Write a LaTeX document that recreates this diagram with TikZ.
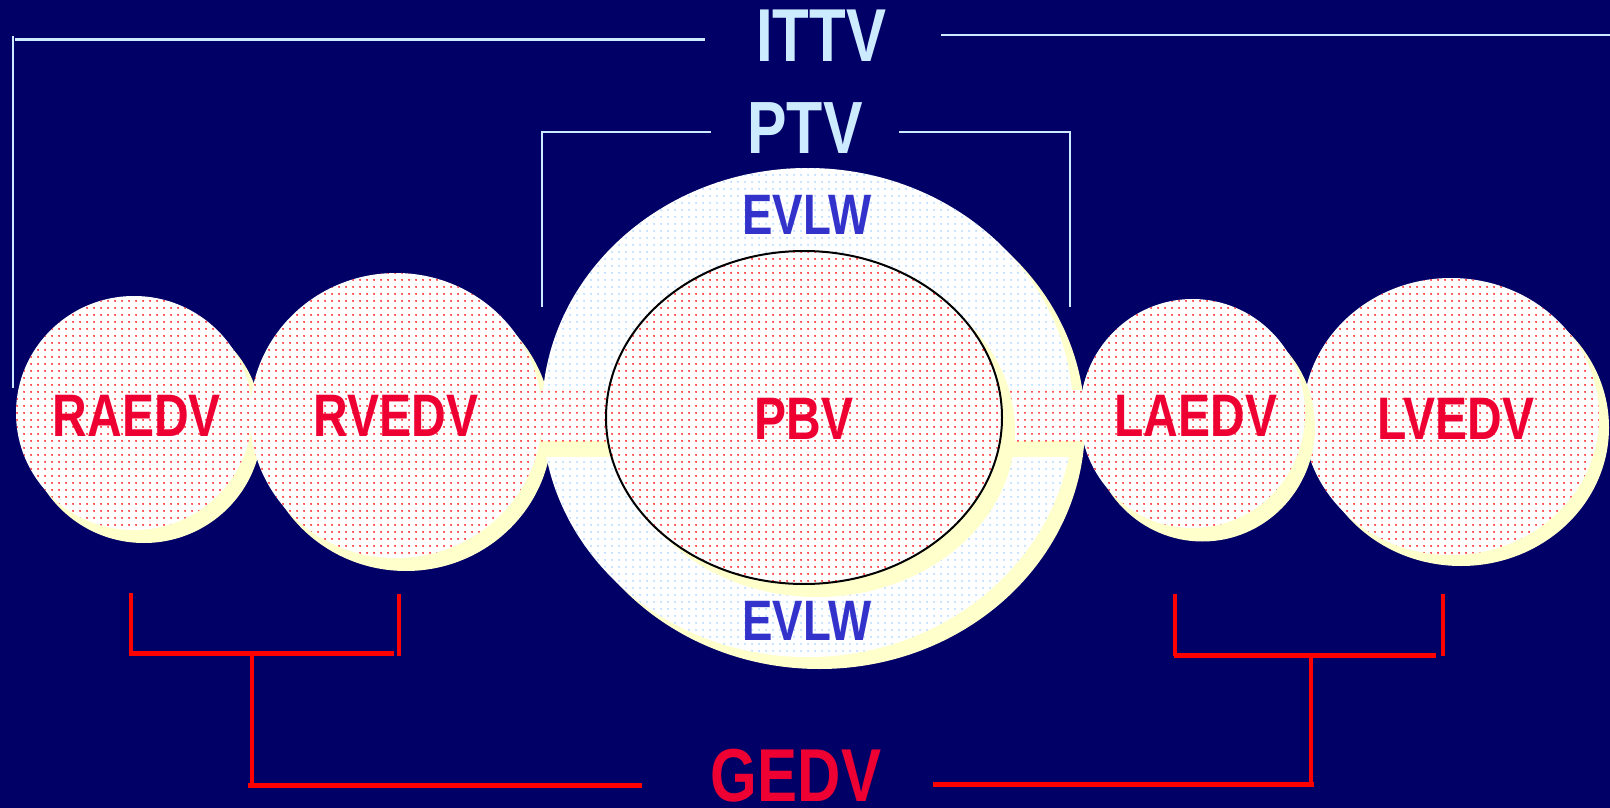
\documentclass[tikz,border=0pt]{standalone}
\usepackage{fontspec}
\newfontfamily\labfont{Liberation Sans}[FakeStretch=0.8]
\usetikzlibrary{shapes.geometric,patterns.meta}
\definecolor{navy}{HTML}{000066}
\definecolor{lightline}{HTML}{CCEBFF}
\definecolor{txtred}{HTML}{EE0033}
\definecolor{linered}{HTML}{FF0000}
\definecolor{evlwblue}{HTML}{3333CC}
\definecolor{shadowy}{HTML}{FFFFCC}
\definecolor{dotred}{HTML}{FF1A1A}
\definecolor{dotblue}{HTML}{B3DAFF}
\tikzdeclarepattern{name=dotgrid, type=uncolored,
  bounding box={(0pt,0pt) and (7pt,7pt)}, tile size={(7pt,7pt)},
  code={\fill (3.5pt,3.5pt) circle [radius=1.15pt];}}
\begin{document}
\begin{tikzpicture}[x=1pt,y=-1pt,
  reddots/.style={preaction={fill=white}, pattern=dotgrid, pattern color=dotred},
  bluedots/.style={preaction={fill=white}, pattern=dotgrid, pattern color=dotblue},
  chamber/.style={ellipse, inner sep=0pt, reddots},
  shade/.style={fill=shadowy},
  ringline/.style={draw=lightline, line width=2.6pt},
  gvert/.style={draw=linered, line width=3.6pt},
  ghor/.style={draw=linered, line width=5pt},
  lbl/.style={font=\labfont\bfseries\fontsize{60}{60}\selectfont, text=txtred, inner sep=0pt},
  evlwlbl/.style={font=\labfont\bfseries\fontsize{57}{57}\selectfont, text=evlwblue, inner sep=0pt},
  toplbl/.style={font=\labfont\bfseries\fontsize{75}{75}\selectfont, text=lightline, inner sep=0pt},
  gedvlbl/.style={font=\labfont\bfseries\fontsize{75}{75}\selectfont, text=txtred, inner sep=0pt}]
\fill[navy] (0,0) rectangle (1610,808);
\useasboundingbox (0,0) rectangle (1610,808);

% top labels
\node[toplbl] (ittv) at (821,36) {ITTV};
\node[toplbl, font=\labfont\bfseries\fontsize{74}{74}\selectfont] (ptv) at (805,128.5) {PTV};

% ITTV bracket
\coordinate (it1) at (13,388);
\coordinate (it2) at (13,36);
\coordinate (it3) at (15,39.5);
\coordinate (it4) at (705,39.5);
\coordinate (it5) at (941,35);
\coordinate (it6) at (1610,35);
\draw[ringline] (it1) -- (it2);
\draw[ringline] (it3) -- (it4);
\draw[ringline] (it5) -- (it6);

% PTV bracket
\coordinate (pt1) at (542,307);
\coordinate (pt2) at (542,132);
\coordinate (pt3) at (711,132);
\coordinate (pt4) at (899,132);
\coordinate (pt5) at (1070,132);
\coordinate (pt6) at (1070,307);
\draw[ringline] (pt1) -- (pt2) -- (pt3);
\draw[ringline] (pt4) -- (pt5) -- (pt6);

% right heart chambers
\fill[shade] (144,426) ellipse [x radius=118pt, y radius=117pt];
\node[chamber, minimum width=236pt, minimum height=234pt] (raedv) at (134,413) {};
\fill[shade] (406,428.5) ellipse [x radius=146pt, y radius=142.5pt];
\node[chamber, minimum width=292pt, minimum height=285pt] (rvedv) at (396,415.5) {};

% pulmonary ring
\fill[shade] (819.5,424.5) ellipse [x radius=265.5pt, y radius=244.5pt];
\node[ellipse, inner sep=0pt, bluedots, minimum width=531pt, minimum height=489pt] (ring) at (807.5,412.5) {};
\fill[shade] (541,441) rectangle (1083,457);
\node[rectangle, inner sep=0pt, reddots, minimum width=541pt, minimum height=51pt] (band) at (811.5,415.5) {};
\fill[shade] (817,430.5) ellipse [x radius=198pt, y radius=166.5pt];
\node[chamber, draw=black, line width=2pt, minimum width=396pt, minimum height=333pt] (pbv) at (804,417.5) {};

% left heart chambers
\fill[shade] (1461,427.5) ellipse [x radius=148pt, y radius=138.5pt];
\node[chamber, minimum width=296pt, minimum height=277pt] (lvedv) at (1451,416.5) {};
\fill[shade] (1202.5,427) ellipse [x radius=112.5pt, y radius=114.5pt];
\node[chamber, minimum width=225pt, minimum height=229pt] (laedv) at (1192.5,413.5) {};

% labels
\node[lbl] (raedvt) at (137,415.5) {RAEDV};
\node[lbl] (rvedvt) at (396,416) {RVEDV};
\node[lbl] (pbvt) at (804,419) {PBV};
\node[lbl] (laedvt) at (1196,416) {LAEDV};
\node[lbl] (lvedvt) at (1456,419) {LVEDV};
\node[evlwlbl] (evlw1) at (807,214.5) {EVLW};
\node[evlwlbl] (evlw2) at (807,621) {EVLW};
\node[gedvlbl] (gedv) at (796,776) {GEDV};

% GEDV brackets
\coordinate (ga1) at (131,593); \coordinate (ga2) at (131,655);
\coordinate (ga3) at (399,594); \coordinate (ga4) at (399,656);
\coordinate (ga5) at (129,653); \coordinate (ga6) at (394,653);
\coordinate (ga7) at (252,653); \coordinate (ga8) at (252,786);
\coordinate (ga9) at (248,785); \coordinate (ga10) at (642,785);
\draw[gvert] (ga1) -- (ga2);
\draw[gvert] (ga3) -- (ga4);
\draw[ghor] (ga5) -- (ga6);
\draw[gvert] (ga7) -- (ga8);
\draw[ghor] (ga9) -- (ga10);

\coordinate (gb1) at (1175,594); \coordinate (gb2) at (1175,656);
\coordinate (gb3) at (1443,594); \coordinate (gb4) at (1443,656);
\coordinate (gb5) at (1174,655); \coordinate (gb6) at (1436,655);
\coordinate (gb7) at (1311,655); \coordinate (gb8) at (1311,787);
\coordinate (gb9) at (933,784); \coordinate (gb10) at (1314,784);
\draw[gvert] (gb1) -- (gb2);
\draw[gvert] (gb3) -- (gb4);
\draw[ghor] (gb5) -- (gb6);
\draw[gvert] (gb7) -- (gb8);
\draw[ghor] (gb9) -- (gb10);
\end{tikzpicture}
\end{document}
